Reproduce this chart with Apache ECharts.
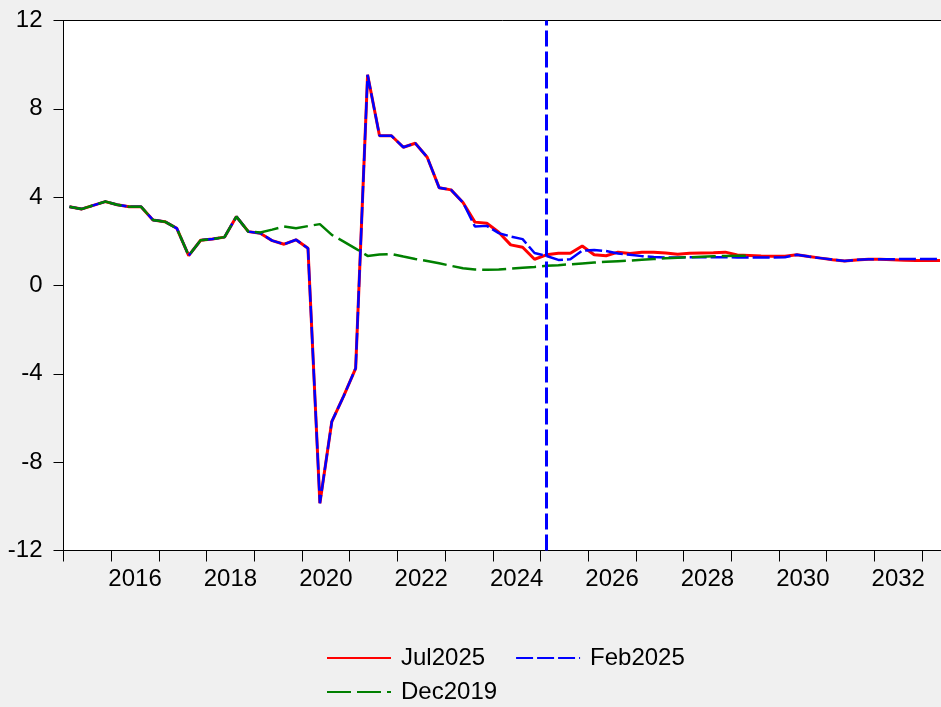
<!DOCTYPE html>
<html>
<head>
<meta charset="utf-8">
<script src="https://cdn.jsdelivr.net/npm/echarts@6.0.0/dist/echarts.min.js"></script>
<style>
  html, body { margin: 0; padding: 0; background: #f0f0f0; }
  #chart { width: 941px; height: 707px; }
</style>
</head>
<body>
<div id="chart"></div>
<script>
// Quarterly observations 2015Q1 .. 2033Q2
const quarters = [
  '2015Q1','2015Q2','2015Q3','2015Q4','2016Q1','2016Q2','2016Q3','2016Q4',
  '2017Q1','2017Q2','2017Q3','2017Q4','2018Q1','2018Q2','2018Q3','2018Q4',
  '2019Q1','2019Q2','2019Q3','2019Q4','2020Q1','2020Q2','2020Q3','2020Q4',
  '2021Q1','2021Q2','2021Q3','2021Q4','2022Q1','2022Q2','2022Q3','2022Q4',
  '2023Q1','2023Q2','2023Q3','2023Q4','2024Q1','2024Q2','2024Q3','2024Q4',
  '2025Q1','2025Q2','2025Q3','2025Q4','2026Q1','2026Q2','2026Q3','2026Q4',
  '2027Q1','2027Q2','2027Q3','2027Q4','2028Q1','2028Q2','2028Q3','2028Q4',
  '2029Q1','2029Q2','2029Q3','2029Q4','2030Q1','2030Q2','2030Q3','2030Q4',
  '2031Q1','2031Q2','2031Q3','2031Q4','2032Q1','2032Q2','2032Q3','2032Q4',
  '2033Q1','2033Q2'
];

const jul2025 = [
  3.57, 3.46, 3.63, 3.80, 3.66, 3.57, 3.57, 2.97, 2.89, 2.59, 1.35, 2.05, 2.11, 2.19, 3.12, 2.44,
  2.37, 2.03, 1.87, 2.07, 1.69,
  -9.86, -6.16, -5.00, -3.75, 9.54,
  6.78, 6.78, 6.26, 6.44, 5.81,
  4.43, 4.33, 3.76, 2.87, 2.82,
  2.41, 1.84, 1.73, 1.19, 1.39,
  1.46, 1.46, 1.79, 1.39, 1.35,
  1.51, 1.45, 1.51, 1.51, 1.47,
  1.42, 1.46, 1.47, 1.48, 1.51,
  1.38, 1.36, 1.34, 1.33, 1.32,
  1.39, 1.31, 1.24, 1.17, 1.11,
  1.16, 1.19, 1.19, 1.17, 1.14,
  1.13, 1.13, 1.13
];

const feb2025 = [
  3.57, 3.46, 3.63, 3.80, 3.66, 3.57, 3.57, 2.97, 2.89, 2.59, 1.35, 2.05, 2.11, 2.19, 3.12, 2.44,
  2.37, 2.03, 1.87, 2.07, 1.69,
  -9.86, -6.16, -5.00, -3.75, 9.54,
  6.78, 6.78, 6.26, 6.44, 5.81,
  4.43, 4.33, 3.76,
  2.67, 2.70, 2.37, 2.22, 2.10,
  1.47, 1.34, 1.16, 1.19, 1.58,
  1.61, 1.56, 1.45, 1.39, 1.33,
  1.29, 1.27, 1.27, 1.28, 1.28,
  1.28, 1.28, 1.27, 1.27, 1.27,
  1.27, 1.28, 1.39, 1.31, 1.24,
  1.17, 1.11, 1.16, 1.19, 1.19,
  1.19, 1.20, 1.20, 1.20, 1.20
];

const dec2019 = [
  3.57, 3.46, 3.63, 3.80, 3.66, 3.57, 3.57, 2.97, 2.89, 2.59, 1.35, 2.05, 2.11, 2.19, 3.12, 2.44,
  2.40, 2.53, 2.67, 2.59, 2.69, 2.78, 2.29, 1.99, 1.67, 1.34,
  1.40, 1.43, 1.31, 1.20, 1.11, 1.01, 0.89, 0.78, 0.72, 0.71,
  0.72, 0.76, 0.80, 0.84, 0.89, 0.92, 0.96, 1.00, 1.04, 1.07,
  1.10, 1.13, 1.17, 1.20, 1.23, 1.26, 1.28, 1.30, 1.32, 1.34,
  1.35, 1.35
];

const seriesNames = ['Jul2025', 'Feb2025', 'Dec2019'];
const labelYears = [2016, 2018, 2020, 2022, 2024, 2026, 2028, 2030, 2032];
const yTicks = [-12, -8, -4, 0, 4, 8, 12];
const markerQuarter = '2025Q1';

// position of a quarter on the time axis (middle of the quarter)
function qx(label) {
  const y = parseInt(label.slice(0, 4), 10);
  const q = parseInt(label.slice(5), 10);
  return y + (q - 0.5) / 4;
}
function pairs(values) {
  return values.map((v, i) => [qx(quarters[i]), v]);
}

const FONT = "'Liberation Sans', Arial, sans-serif";
const X_MIN = 2015, X_MAX = 2034;

const chart = echarts.init(document.getElementById('chart'), null, { renderer: 'canvas' });

const legendCommon = {
  orient: 'horizontal', padding: 0, icon: 'inherit',
  itemWidth: 64, itemHeight: 14, itemGap: 30,
  selectedMode: false,
  itemStyle: { opacity: 0, borderWidth: 0 },
  textStyle: { fontSize: 24, color: '#000', fontFamily: FONT, padding: [0, 0, 0, 5] }
};

chart.setOption({
  animation: false,
  backgroundColor: '#f0f0f0',
  textStyle: { fontFamily: FONT },
  grid: {
    left: 63.5, width: 906.3, top: 20.5, bottom: 156.5,
    outerBoundsMode: 'none', containLabel: false,
    show: true, backgroundColor: '#ffffff', borderColor: '#000000', borderWidth: 1
  },
  legend: [
    Object.assign({}, legendCommon, { data: [seriesNames[0], seriesNames[1]], left: 326, top: 646 }),
    Object.assign({}, legendCommon, { data: [seriesNames[2]], left: 326, top: 680 })
  ],
  xAxis: [
    {
      type: 'value', position: 'bottom', min: X_MIN, max: X_MAX, interval: 1,
      axisLine: { show: true, onZero: false, lineStyle: { color: '#000', width: 1 } },
      axisTick: { show: true, inside: false, length: 11, lineStyle: { color: '#000', width: 1 } },
      axisLabel: { show: false },
      splitLine: { show: false }
    },
    {
      type: 'value', position: 'bottom', min: X_MIN, max: X_MAX, interval: 0.5,
      axisLine: { show: false, onZero: false },
      axisTick: { show: false },
      splitLine: { show: false },
      axisLabel: {
        show: true, margin: 17, fontSize: 24, color: '#000', fontFamily: FONT,
        formatter: function (v) {
          const y = Math.floor(v);
          return (Math.abs(v - y - 0.5) < 1e-6 && labelYears.indexOf(y) >= 0) ? String(y) : '';
        }
      }
    }
  ],
  yAxis: {
    type: 'value', min: yTicks[0], max: yTicks[yTicks.length - 1], interval: 4,
    axisLine: { show: true, lineStyle: { color: '#000', width: 1 } },
    axisTick: { show: true, inside: false, length: 10, lineStyle: { color: '#000', width: 1 } },
    axisLabel: { show: true, margin: 21, fontSize: 24, color: '#000', fontFamily: FONT },
    splitLine: { show: false }
  },
  series: [
    {
      name: seriesNames[0], type: 'line', xAxisIndex: 0, symbol: 'none',
      data: pairs(jul2025), color: '#ff0000',
      lineStyle: { color: '#ff0000', width: 3, type: 'solid' }
    },
    {
      name: seriesNames[1], type: 'line', xAxisIndex: 0, symbol: 'none',
      data: pairs(feb2025), color: '#0000ff',
      lineStyle: { color: '#0000ff', width: 2.5, type: [17, 4] },
      markLine: {
        silent: true, symbol: ['none', 'none'], animation: false,
        label: { show: false },
        lineStyle: { color: '#0000ff', width: 3, type: [16, 5] },
        data: [{ xAxis: qx(markerQuarter) }]
      }
    },
    {
      name: seriesNames[2], type: 'line', xAxisIndex: 0, symbol: 'none',
      data: pairs(dec2019), color: '#008000',
      lineStyle: { color: '#008000', width: 2.5, type: [24, 6] }
    }
  ]
});
</script>
</body>
</html>
